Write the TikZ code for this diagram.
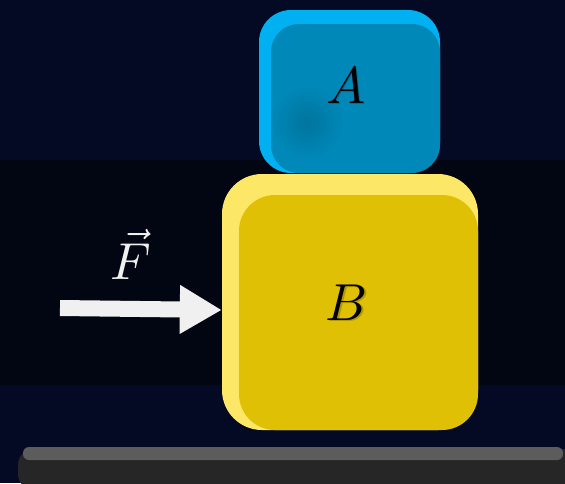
\documentclass[tikz,border=0pt]{standalone}
\usetikzlibrary{arrows.meta,calc,fadings}
\definecolor{bgnavy}{HTML}{040A24}
\definecolor{bandcol}{HTML}{020612}
\definecolor{blueout}{HTML}{00B0F0}
\definecolor{bluein}{HTML}{0088B8}
\definecolor{yelout}{HTML}{FDE767}
\definecolor{yelin}{HTML}{DFC005}
\definecolor{arrowwhite}{HTML}{F0F0F0}
\definecolor{groundlight}{HTML}{5C5C5C}
\definecolor{grounddark}{HTML}{262626}
\tikzfading[name=softspot, inner color=transparent!86, outer color=transparent!100]
\newcommand{\biglabel}[1]{\scalebox{5.2}{$#1$}}
\tikzset{
  blocklabel/.style={text=black, inner sep=0pt},
  shadowlabel/.style={text=black, opacity=0.2, inner sep=0pt},
  forcearrow/.style={draw=arrowwhite, line width=16pt, -{Triangle[length=42pt,width=46pt,fill=arrowwhite]}}
}
\begin{document}
\begin{tikzpicture}[x=1pt,y=-1pt]
\useasboundingbox (0,0) rectangle (565,483);
\fill[bgnavy] (0,0) rectangle (565,483);
\fill[bandcol] (0,160) rectangle (565,385);
% ground
\begin{scope}
\clip (0,0) rectangle (565,483);
\fill[grounddark, rounded corners=16pt] (18,449) rectangle (600,490);
\end{scope}
\fill[groundlight, rounded corners=6pt] (23,447) rectangle (563,460);
% block A
\node[fill=blueout, rounded corners=32pt, minimum width=181pt, minimum height=163pt, inner sep=0pt] (A) at (349.5,91.5) {};
\fill[bluein, rounded corners=28pt] (271,24) rectangle (440,173);
\fill[black, path fading=softspot] (307,122) circle (36);
% block B
\node[fill=yelout, rounded corners=40pt, minimum width=256pt, minimum height=256pt, inner sep=0pt] (B) at (350,302) {};
\fill[yelin, rounded corners=36pt] (239,195) rectangle (478,430);
% labels
\node[shadowlabel] at (347.2,87.2) {\biglabel{A}};
\node[blocklabel] (LA) at (346,86) {\biglabel{A}};
\node[shadowlabel] at (348.2,304.2) {\biglabel{B}};
\node[blocklabel] (LB) at (347,303) {\biglabel{B}};
% force
\coordinate (Fstart) at (60,308);
\draw[forcearrow] (Fstart) -- ($(B.west)+(0,8)$);
\node[text=arrowwhite, inner sep=0pt] (F) at (131,254) {\biglabel{\vec{F}}};
\end{tikzpicture}
\end{document}
